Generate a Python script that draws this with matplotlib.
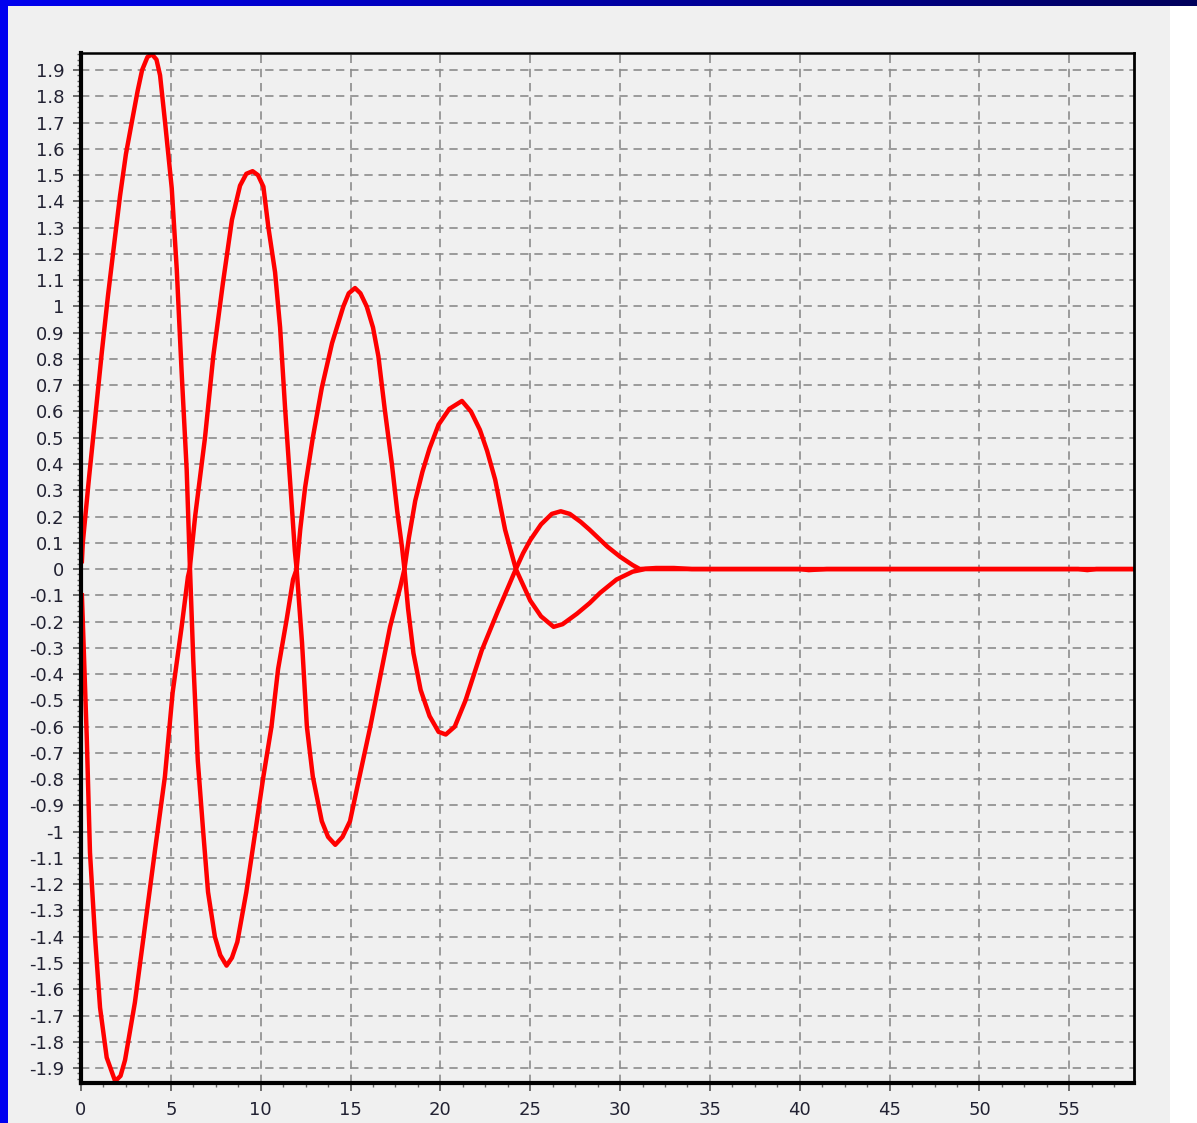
"""
Damped two-branch oscillation, redrawn as a static PNG.
"""

import matplotlib
matplotlib.use("Agg")  # non-interactive backend
import matplotlib.pyplot as plt
import numpy as np
from matplotlib.patches import Rectangle
from matplotlib.ticker import FixedLocator, MultipleLocator, FuncFormatter

# --- data --------------------------------------------------------------
# branch A: positive lobe first (peak near x=4)
a_x = [0.05, 0.1, 0.45, 0.78, 1.15, 1.5, 1.85, 2.17, 2.5, 2.85, 3.15, 3.4, 3.7, 3.95,
       4.2, 4.4, 4.68, 5.05, 5.33, 5.6, 5.88, 6.05,
       6.25, 6.5, 6.8, 7.07, 7.45, 7.75, 8.1, 8.4, 8.7, 9.2, 9.7, 10.15, 10.6, 10.97,
       11.45, 11.8, 12.0,
       12.2, 12.47, 12.9, 13.4, 13.97, 14.6, 14.9, 15.25, 15.55, 15.9, 16.25, 16.55,
       16.9, 17.3, 17.6, 17.87, 18.0,
       18.2, 18.5, 18.9, 19.4, 19.9, 20.3, 20.8, 21.4, 22.3, 23.2, 23.7, 24.2,
       24.6, 25.0, 25.6, 26.2, 26.7, 27.2, 27.8, 28.3, 29.3, 30.0, 30.7, 31.1,
       32.0, 33.0, 34.0, 40.0, 40.5, 41.5, 55.5, 56.0, 56.5, 58.6]
a_y = [0.03, 0.1, 0.35, 0.57, 0.82, 1.04, 1.24, 1.42, 1.58, 1.71, 1.82, 1.9, 1.95, 1.96,
       1.94, 1.88, 1.70, 1.45, 1.14, 0.75, 0.38, 0.03,
       -0.35, -0.73, -1.0, -1.23, -1.40, -1.47, -1.51, -1.48, -1.42, -1.23, -1.0, -0.79,
       -0.6, -0.38, -0.19, -0.04, 0.0,
       0.15, 0.31, 0.5, 0.69, 0.86, 1.0, 1.05, 1.07, 1.05, 1.0, 0.92, 0.81,
       0.61, 0.40, 0.22, 0.08, 0.0,
       -0.15, -0.32, -0.46, -0.56, -0.62, -0.63, -0.6, -0.5, -0.31, -0.16, -0.08, 0.0,
       0.06, 0.11, 0.17, 0.21, 0.22, 0.21, 0.18, 0.15, 0.085, 0.047, 0.015, 0.0,
       0.004, 0.004, 0.0, 0.0, -0.004, 0.0, 0.0, -0.004, 0.0, 0.0]

# branch B: negative lobe first (trough near x=2)
b_x = [0.05, 0.32, 0.5, 0.78, 1.06, 1.43, 1.9, 2.2, 2.45, 3.0, 3.56, 4.1, 4.67, 5.1,
       5.6, 5.95, 6.05,
       6.35, 6.9, 7.36, 7.9, 8.4, 8.85, 9.2, 9.55, 9.85, 10.15, 10.43, 10.8, 11.08,
       11.36, 11.64, 11.9, 12.0,
       12.3, 12.57, 12.9, 13.4, 13.75, 14.15, 14.55, 14.97, 15.5, 16.1, 16.65, 17.2,
       17.76, 18.0,
       18.25, 18.6, 19.0, 19.4, 19.9, 20.5, 21.2, 21.7, 22.2, 22.6, 23.05, 23.6, 24.2,
       24.6, 25.0, 25.6, 26.3, 26.8, 27.6, 28.3, 28.9, 29.8, 30.7, 31.4, 58.6]
b_y = [-0.1, -0.64, -1.08, -1.40, -1.67, -1.86, -1.95, -1.93, -1.87, -1.65, -1.36,
       -1.08, -0.79, -0.47, -0.22, -0.03, 0.0,
       0.2, 0.5, 0.81, 1.09, 1.33, 1.46, 1.505, 1.515, 1.5, 1.456, 1.30, 1.13, 0.92,
       0.61, 0.33, 0.07, 0.0,
       -0.28, -0.6, -0.79, -0.96, -1.02, -1.05, -1.02, -0.96, -0.79, -0.6, -0.41, -0.22,
       -0.07, 0.0,
       0.12, 0.26, 0.37, 0.46, 0.55, 0.61, 0.64, 0.6, 0.53, 0.45, 0.34, 0.15, 0.0,
       -0.06, -0.12, -0.18, -0.22, -0.21, -0.17, -0.13, -0.09, -0.04, -0.01, 0.0, 0.0]

x_ticks = [0, 5, 10, 15, 20, 25, 30, 35, 40, 45, 50, 55]
y_ticks = [round(v / 10, 1) for v in range(-19, 20)]

W, H = 1197, 1123
fig = plt.figure(figsize=(W / 100, H / 100), dpi=100)
fig.patch.set_facecolor("white")

# slide background pieces: grey panel, blue left strip, blue->navy top band
fig.patches.append(Rectangle((8 / W, 0), (1170 - 8) / W, 1, transform=fig.transFigure,
                             facecolor="#f0f0f0", edgecolor="none", zorder=-3))
fig.patches.append(Rectangle((0, 0), 8 / W, 1, transform=fig.transFigure,
                             facecolor="#0000f0", edgecolor="none", zorder=-2))
band = fig.add_axes([0, 1 - 6 / H, 1, 6 / H])
grad = np.linspace(0, 1, 256)[None, :]
cols = np.zeros((1, 256, 3))
cols[..., 2] = 0.94 - 0.58 * grad
band.imshow(cols, aspect="auto", extent=(0, 1, 0, 1))
band.axis("off")

ax = fig.add_axes([81 / W, (H - 1083) / H, (1134 - 81) / W, (1083 - 53) / H])
ax.set_facecolor("#f0f0f0")

ax.plot(a_x, a_y, color="#ff0000", linewidth=3.2, solid_joinstyle="round", zorder=5)
ax.plot(b_x, b_y, color="#ff0000", linewidth=3.2, solid_joinstyle="round", zorder=5)

ax.set_xlim(0, 58.6)
ax.set_ylim(-1.957, 1.965)

ax.xaxis.set_major_locator(FixedLocator(x_ticks))
ax.xaxis.set_minor_locator(MultipleLocator(1.25))
ax.yaxis.set_major_locator(FixedLocator(y_ticks))
ax.yaxis.set_minor_locator(MultipleLocator(0.02))


def fmt(v, _):
    if abs(v) < 1e-9:
        return "0"
    return f"{round(v, 1):g}"


ax.yaxis.set_major_formatter(FuncFormatter(fmt))
ax.xaxis.set_major_formatter(FuncFormatter(fmt))

ax.tick_params(axis="both", which="major", direction="out", length=6, width=1.2,
               color="#555555", labelsize=13, labelcolor="#222233", pad=6)
ax.tick_params(axis="both", which="minor", direction="out", length=3, width=1,
               color="#666666")
ax.tick_params(axis="x", which="major", pad=7)

ax.grid(True, which="major", color="#8c8c8c", linestyle=(0, (5, 3.5)), linewidth=1.2)

ax.spines["left"].set_linewidth(3)
ax.spines["bottom"].set_linewidth(3)
ax.spines["top"].set_linewidth(1.8)
ax.spines["right"].set_linewidth(2)
for s in ax.spines.values():
    s.set_color("black")
    s.set_zorder(6)

fig.savefig("out.png", dpi=100, facecolor=fig.get_facecolor())
plt.close(fig)
